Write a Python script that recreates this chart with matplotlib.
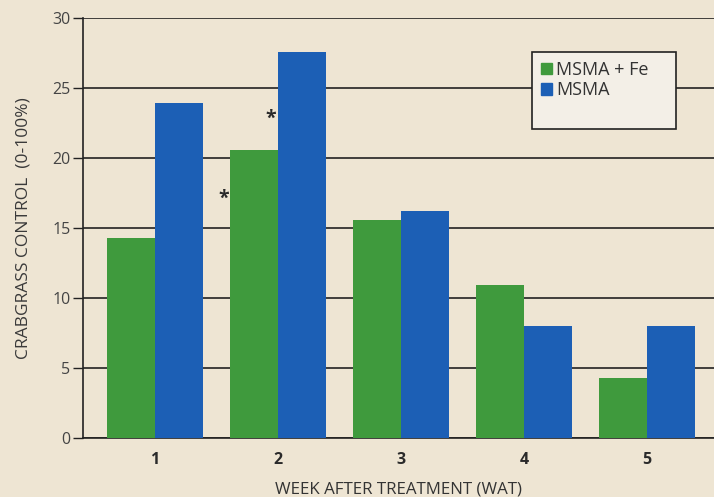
import matplotlib.pyplot as plt
import numpy as np
from matplotlib.patches import Patch

weeks = ['1', '2', '3', '4', '5']
msma_fe = [14.3, 20.6, 15.6, 10.9, 4.3]
msma = [23.9, 27.6, 16.2, 8.0, 8.0]

bg = '#eee5d3'
green = '#3f9a3d'
blue = '#1c5fb5'
txt = '#2a2a2a'

plt.rcParams['font.family'] = ['Open Sans', 'DejaVu Sans']

fig = plt.figure(figsize=(7.14, 4.97), dpi=100, facecolor=bg)
ax = fig.add_axes([0.1162, 0.1187, 0.8838, 0.8451], facecolor=bg)

x = np.arange(len(weeks))
w = 0.39
ax.bar(x - w / 2, msma_fe, width=w, color=green, zorder=3)
ax.bar(x + w / 2, msma, width=w, color=blue, zorder=3)

ax.set_xlim(-0.585, 4.545)
ax.set_ylim(0, 30)
ax.set_yticks(range(0, 31, 5))
ax.grid(axis='y', color='#222222', linewidth=1.2, zorder=1)
ax.set_xticks(x)
ax.set_xticklabels(weeks, fontsize=11.5, fontweight='bold', color=txt)
ax.tick_params(axis='x', length=0, pad=10)
ax.tick_params(axis='y', length=7, width=1, direction='out', labelsize=11.5,
               labelcolor='#444444', color='#222222', pad=2)
for s in ['top', 'right']:
    ax.spines[s].set_visible(False)
ax.spines['left'].set_color('#222222')
ax.spines['bottom'].set_color('#222222')
ax.spines['left'].set_linewidth(1.2)
ax.spines['bottom'].set_linewidth(1.2)

ax.set_ylabel('CRABGRASS CONTROL  (0-100%)', fontsize=12.5, color='#3a3a3a', labelpad=15)
ax.set_xlabel('WEEK AFTER TREATMENT (WAT)', fontsize=12.2, color='#333333', labelpad=10)

# significance marks
ax.text(1 - 0.44, 17.1, '*', fontsize=14, fontweight='bold', ha='center', va='center', color=txt)
ax.text(1 - 0.06, 22.8, '*', fontsize=14, fontweight='bold', ha='center', va='center', color=txt)

handles = [Patch(color=green, label='MSMA + Fe'), Patch(color=blue, label='MSMA'),
           Patch(color='none', label=' ')]
leg = fig.legend(handles=handles, loc='upper left',
                 bbox_to_anchor=(0.745, 0.696, 0.2017, 0.2), mode='expand',
                 fontsize=13, frameon=True, fancybox=False, handlelength=0.6,
                 handleheight=0.6, handletextpad=0.25, labelspacing=0.15,
                 borderpad=0.5, borderaxespad=0)
leg.get_frame().set_facecolor('#f3efe7')
leg.get_frame().set_edgecolor('#222222')
leg.get_frame().set_alpha(1)
leg.get_frame().set_linewidth(1.2)
for t in leg.get_texts():
    t.set_color('#333333')

fig.savefig('out.png', dpi=100, facecolor=bg)
